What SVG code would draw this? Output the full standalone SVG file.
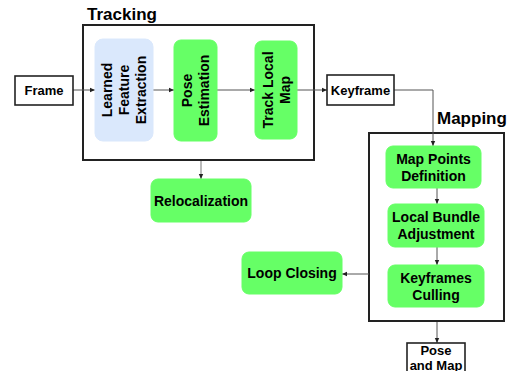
<svg xmlns="http://www.w3.org/2000/svg" width="512" height="371" viewBox="0 0 512 371">
<defs>
<style>
.t{font-family:"Liberation Sans",Arial,sans-serif;font-weight:bold;fill:#000;text-anchor:middle}
.f14{font-size:14px}
.f13{font-size:13px}
.title{font-family:"Liberation Sans",Arial,sans-serif;font-weight:bold;font-size:17px;fill:#000}
.g{fill:#66ff66;stroke:#66ff66;stroke-width:1}
.b{fill:#dae8fc;stroke:#dae8fc;stroke-width:1}
.w{fill:#fff;stroke:#222;stroke-width:1.6}
.frame{fill:none;stroke:#222;stroke-width:2}
.c{fill:none;stroke:#555;stroke-width:1}
</style>
<marker id="ah" markerUnits="userSpaceOnUse" markerWidth="6" markerHeight="6" viewBox="0 0 6 6" refX="5" refY="3" orient="auto">
<path d="M0,0.8 L5,3 L0,5.2 z" fill="#222"/>
</marker>
</defs>
<rect width="512" height="371" fill="#fff"/>

<g id="tracking">
<rect class="frame" x="83" y="25" width="231" height="135"/>
<text class="title" x="87" y="20">Tracking</text>
</g>
<g id="mapping">
<rect class="frame" x="369" y="133" width="135" height="188"/>
<text class="title" x="437" y="124">Mapping</text>
</g>

<g id="connectors">
<line class="c" x1="73" y1="90" x2="95" y2="90" marker-end="url(#ah)"/>
<line class="c" x1="153" y1="90" x2="174" y2="90" marker-end="url(#ah)"/>
<line class="c" x1="217" y1="90" x2="255" y2="90" marker-end="url(#ah)"/>
<line class="c" x1="297" y1="90" x2="327" y2="90" marker-end="url(#ah)"/>
<polyline class="c" points="394,90 433,90 433,146" marker-end="url(#ah)"/>
<line x1="201" y1="161" x2="201" y2="179" stroke="#bbb" stroke-width="2" marker-end="url(#ah)"/>
<line class="c" x1="437" y1="188" x2="437" y2="204" marker-end="url(#ah)"/>
<line class="c" x1="437" y1="247" x2="437" y2="265" marker-end="url(#ah)"/>
<line class="c" x1="369" y1="274" x2="342" y2="274" marker-end="url(#ah)"/>
<line class="c" x1="437" y1="322" x2="437" y2="343" marker-end="url(#ah)"/>
</g>

<g id="frame">
<rect class="w" x="15" y="76" width="58" height="29"/>
<text class="t f13" x="44" y="95">Frame</text>
</g>

<g id="learned">
<rect class="b" x="95" y="39" width="58" height="102" rx="8"/>
<g transform="translate(124,90) rotate(-90)">
<text class="t f14" x="0" y="-12">Learned</text>
<text class="t f14" x="0" y="5">Feature</text>
<text class="t f14" x="0" y="22">Extraction</text>
</g>
</g>

<g id="pose">
<rect class="g" x="174" y="40" width="43" height="101" rx="7"/>
<g transform="translate(196,90.5) rotate(-90)">
<text class="t f14" x="0" y="-4">Pose</text>
<text class="t f14" x="0" y="13">Estimation</text>
</g>
</g>

<g id="tracklocal">
<rect class="g" x="255" y="41" width="42" height="98" rx="7"/>
<g transform="translate(277,90) rotate(-90)">
<text class="t f14" x="0" y="-4">Track Local</text>
<text class="t f14" x="0" y="13">Map</text>
</g>
</g>

<g id="keyframe">
<rect class="w" x="327" y="75" width="67" height="30"/>
<text class="t f13" x="360.5" y="94.5">Keyframe</text>
</g>

<g id="relocalization">
<rect class="g" x="151" y="179" width="100" height="43" rx="7"/>
<text class="t f14" x="201" y="205.5">Relocalization</text>
</g>

<g id="mappoints">
<rect class="g" x="386" y="146" width="95" height="42" rx="7"/>
<text class="t f14" x="433.5" y="164">Map Points</text>
<text class="t f14" x="433.5" y="181">Definition</text>
</g>

<g id="localba">
<rect class="g" x="388" y="204" width="96" height="43" rx="7"/>
<text class="t f14" x="436" y="222">Local Bundle</text>
<text class="t f14" x="436" y="239">Adjustment</text>
</g>

<g id="culling">
<rect class="g" x="388" y="265" width="96" height="42" rx="7"/>
<text class="t f14" x="436" y="283">Keyframes</text>
<text class="t f14" x="436" y="300">Culling</text>
</g>

<g id="loopclosing">
<rect class="g" x="242" y="252" width="100" height="42" rx="7"/>
<text class="t f14" x="292" y="278">Loop Closing</text>
</g>

<g id="posemap">
<rect class="w" x="407" y="343" width="58" height="34"/>
<text class="t f13" x="436" y="355">Pose</text>
<text class="t f13" x="436" y="369.5">and Map</text>
</g>
</svg>
